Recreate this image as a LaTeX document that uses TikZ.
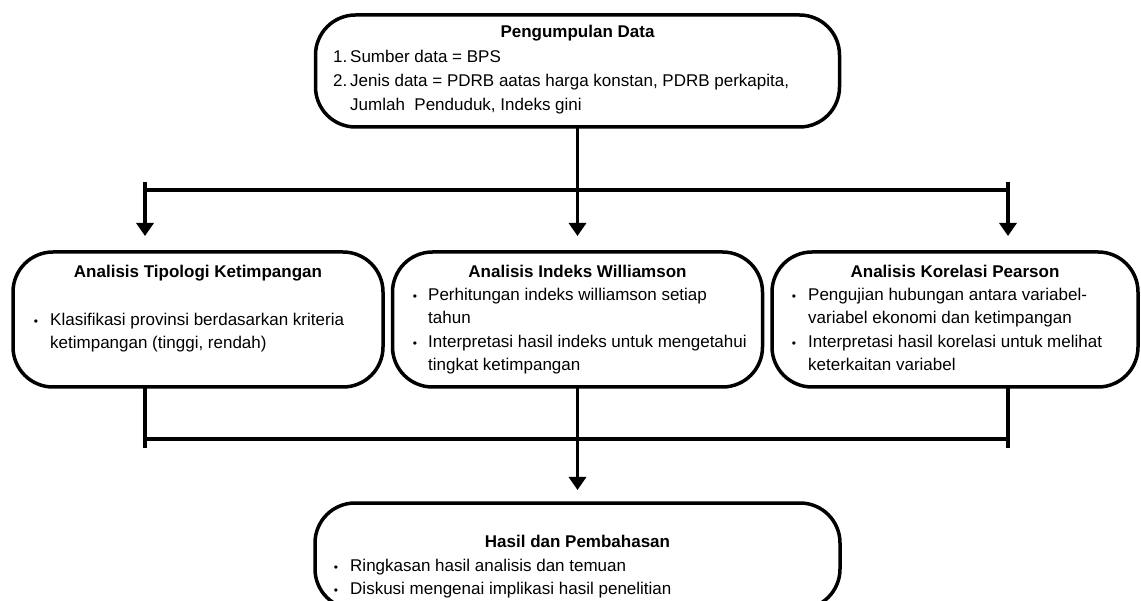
\documentclass[tikz,border=0pt]{standalone}
\usepackage{fontspec}
\setmainfont{Liberation Sans}
\usetikzlibrary{arrows.meta}
\begin{document}
\begin{tikzpicture}[x=1pt,y=-1pt,
  box/.style={draw, line width=3.5pt, rounded corners=40pt, inner sep=0pt, outer sep=0pt, fill=white},
  conn/.style={line width=3.5pt},
  arr/.style={conn, -{Triangle[width=17pt,length=13pt]}},
  txt/.style={inner sep=0pt, anchor=base west, font=\fontsize{17}{20}\selectfont},
  ttl/.style={inner sep=0pt, anchor=base, font=\fontsize{17}{20}\selectfont\bfseries},
  bul/.style={inner sep=0pt, anchor=base, font=\fontsize{12}{14}\selectfont},
]
\useasboundingbox (0,0) rectangle (1141,601);
\fill[white] (0,0) rectangle (1141,601);
\clip (0,0) rectangle (1141,601);

% boxes
\node[box, minimum width=524pt, minimum height=112pt] (top) at (577.5,71) {};
\node[box, minimum width=370pt, minimum height=135pt] (left) at (198,319.5) {};
\node[box, minimum width=370pt, minimum height=135pt] (mid) at (577.5,319.5) {};
\node[box, minimum width=366pt, minimum height=135pt] (right) at (955,319.5) {};
\node[box, minimum width=525pt, minimum height=106pt] (bot) at (577.5,556) {};

% junction coordinates
\coordinate (jl) at (145,190);
\coordinate (jr) at (1008,190);
\coordinate (sl) at (145,182);
\coordinate (sr) at (1008,182);
\coordinate (bl) at (145,439);
\coordinate (br) at (1008,439);
\coordinate (el) at (145,448);
\coordinate (er) at (1008,448);

% connectors
\draw[conn] (jl) -- (jr);
\draw[arr, shorten >=16pt] (top.south) -- (top.south |- mid.north);
\draw[arr, shorten >=16pt] (sl) -- (sl |- left.north);
\draw[arr, shorten >=16pt] (sr) -- (sr |- right.north);
\draw[conn] (left.south -| el) -- (el);
\draw[conn] (right.south -| er) -- (er);
\draw[conn] (bl) -- (br);
\draw[arr, shorten >=13pt] (mid.south) -- (bot.north);

% top box text
\node[ttl] (t0) at (577.5,38) {Pengumpulan Data};
\node[txt] (t1n) at (333,63) {1.};
\node[txt] (t1) at (350,63) {Sumber data = BPS};
\node[txt] (t2n) at (333,87) {2.};
\node[txt] (t2) at (350,87) {Jenis data = PDRB aatas harga konstan, PDRB perkapita,};
\node[txt] (t3) at (350,111) {Jumlah\ \ Penduduk, Indeks gini};

% left box text
\node[ttl] (l0) at (198,278) {Analisis Tipologi Ketimpangan};
\node[bul] (l1b) at (36,326) {•};
\node[txt] (l1) at (50,326) {Klasifikasi provinsi berdasarkan kriteria};
\node[txt] (l2) at (50,349) {ketimpangan (tinggi, rendah)};

% middle box text
\node[ttl] (m0) at (577.5,278) {Analisis Indeks Williamson};
\node[bul] (m1b) at (415,301) {•};
\node[txt] (m1) at (428,301) {Perhitungan indeks williamson setiap};
\node[txt] (m2) at (428,324) {tahun};
\node[bul] (m3b) at (415,348) {•};
\node[txt] (m3) at (428,348) {Interpretasi hasil indeks untuk mengetahui};
\node[txt] (m4) at (428,371) {tingkat ketimpangan};

% right box text
\node[ttl] (r0) at (955,278) {Analisis Korelasi Pearson};
\node[bul] (r1b) at (794,301) {•};
\node[txt] (r1) at (808,301) {Pengujian hubungan antara variabel-};
\node[txt] (r2) at (808,324) {variabel ekonomi dan ketimpangan};
\node[bul] (r3b) at (794,348) {•};
\node[txt] (r3) at (808,348) {Interpretasi hasil korelasi untuk melihat};
\node[txt] (r4) at (808,371) {keterkaitan variabel};

% bottom box text
\node[ttl] (b0) at (577.5,547) {Hasil dan Pembahasan};
\node[bul] (b1b) at (336,571) {•};
\node[txt] (b1) at (350,571) {Ringkasan hasil analisis dan temuan};
\node[bul] (b2b) at (336,594) {•};
\node[txt] (b2) at (350,594) {Diskusi mengenai implikasi hasil penelitian};
\end{tikzpicture}
\end{document}
